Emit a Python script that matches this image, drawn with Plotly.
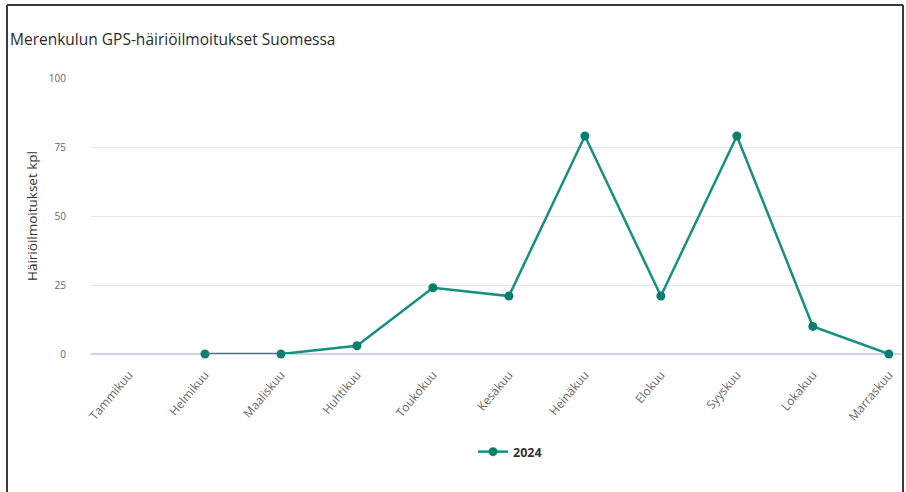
import plotly.graph_objects as go

# Monthly GPS interference reports in Finnish maritime traffic, 2024
months = ["Tammikuu", "Helmikuu", "Maaliskuu", "Huhtikuu", "Toukokuu", "Kesäkuu",
          "Heinäkuu", "Elokuu", "Syyskuu", "Lokakuu", "Marraskuu"]
reports_2024 = [None, 0, 0, 3, 24, 21, 79, 21, 79, 10, 0]
y_ticks = [0, 25, 50, 75, 100]

line_color = "#16907f"
marker_color = "#0b7e70"

fig = go.Figure()
fig.add_trace(go.Scatter(
    x=list(range(len(months))),
    y=reports_2024,
    mode="lines+markers",
    name="2024",
    line=dict(color=line_color, width=2.5),
    marker=dict(color=marker_color, size=9),
    connectgaps=False,
    cliponaxis=False,
))

W, H = 906, 492
ml, mr, mt, mb = 91, 5, 78, 138
pw, ph = W - ml - mr, H - mt - mb

def px(xp):
    return (xp - ml) / pw

def py(yp):
    return (H - mb - yp) / ph

fig.update_layout(
    width=W, height=H,
    margin=dict(l=ml, r=mr, t=mt, b=mb),
    paper_bgcolor="white",
    plot_bgcolor="white",
    font=dict(family="Open Sans, Liberation Sans, sans-serif", color="#333333"),
    title=dict(
        text="Merenkulun GPS-häiriöilmoitukset Suomessa",
        x=10 / W, xref="container", xanchor="left",
        y=1 - 40 / H, yref="container", yanchor="middle",
        font=dict(family="Open Sans, sans-serif", size=15.5, color="#2b2b2b"),
    ),
    xaxis=dict(
        tickmode="array",
        tickvals=list(range(len(months))),
        ticktext=months,
        tickangle=-50,
        range=[-0.5, 10.16],
        showgrid=False,
        zeroline=False,
        showline=False,
        ticks="outside",
        ticklen=8,
        tickcolor="rgba(0,0,0,0)",
        tickfont=dict(size=12, color="#666666"),
    ),
    yaxis=dict(
        range=[0, 100],
        tickvals=y_ticks,
        showgrid=True,
        gridcolor="#e6e6e6",
        gridwidth=1,
        zeroline=True,
        zerolinecolor="#ccd6eb",
        zerolinewidth=1.5,
        showline=False,
        ticks="outside",
        ticklen=22,
        tickcolor="rgba(0,0,0,0)",
        tickfont=dict(size=10, color="#666666"),
        title=dict(text="Häiriöilmoitukset kpl", standoff=8,
                   font=dict(size=13.5, color="#333333")),
    ),
    legend=dict(
        orientation="h",
        x=px(510), xanchor="center",
        y=py(452), yanchor="middle",
        font=dict(size=12.5, color="#333333", weight="bold"),
    ),
    showlegend=True,
)

# Dark frame around the chart (left, top and right edges)
frame = dict(color="#3a3a3a", width=2)
fig.add_shape(type="line", xref="paper", yref="paper",
              x0=px(7), x1=px(7), y0=py(5), y1=py(H + 2), line=frame)
fig.add_shape(type="line", xref="paper", yref="paper",
              x0=px(7), x1=px(903), y0=py(5), y1=py(5), line=frame)
fig.add_shape(type="line", xref="paper", yref="paper",
              x0=px(903), x1=px(903), y0=py(5), y1=py(H + 2), line=frame)

fig.write_html("out.html")
